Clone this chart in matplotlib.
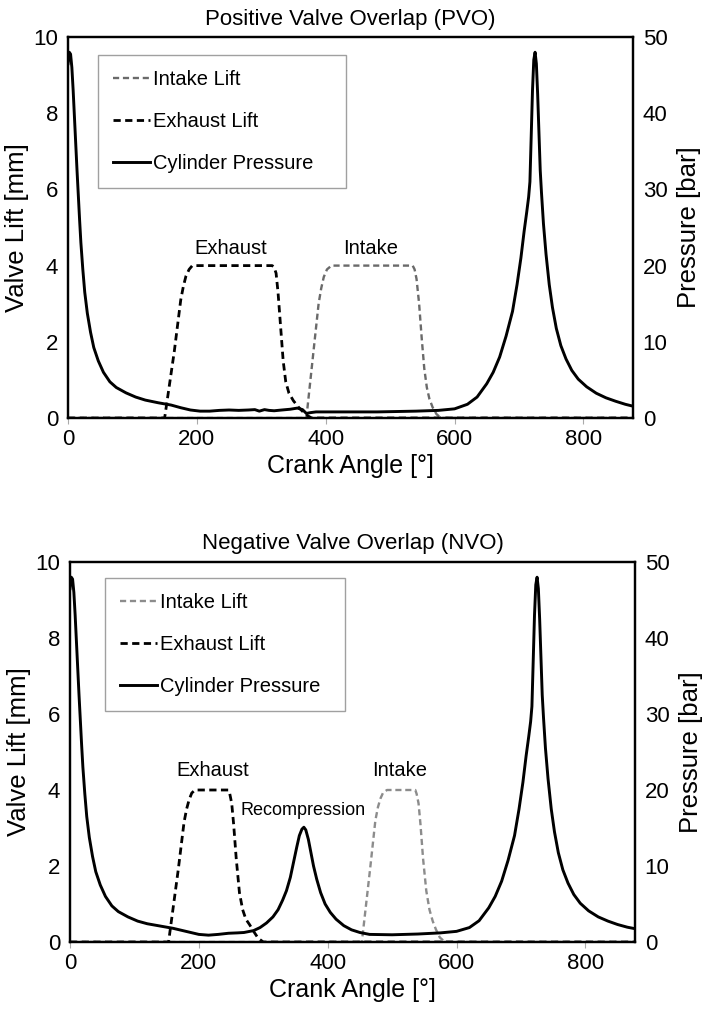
import matplotlib
matplotlib.use("Agg")
import matplotlib.pyplot as plt
from matplotlib.lines import Line2D

plt.rcParams['font.family'] = ['Liberation Sans', 'DejaVu Sans']

# ---------------- data ----------------
# PVO (top panel)
pvo_exh_ca = [0, 150, 165, 175, 179, 183, 188, 193, 317, 320, 323, 326, 330, 334,
              338, 343, 350, 358, 366, 372, 378, 880]
pvo_exh_lift = [0, 0, 1.75, 3.1, 3.45, 3.72, 3.9, 4.0, 4.0, 3.95, 3.8, 3.3, 2.4, 1.5,
                0.95, 0.65, 0.45, 0.28, 0.14, 0.06, 0, 0]
pvo_int_ca = [0, 370, 382, 389, 393, 397, 402, 409, 535, 538, 541, 545, 549, 553,
              557, 561, 566, 572, 579, 880]
pvo_int_lift = [0, 0, 1.9, 3.0, 3.4, 3.7, 3.9, 4.0, 4.0, 3.9, 3.65, 3.0, 2.1, 1.3,
                0.8, 0.5, 0.28, 0.1, 0, 0]
pvo_p_ca = [0, 2, 4, 6, 8, 10, 12, 14, 16, 18, 20, 23, 26, 30, 35, 40, 47, 55, 65,
            75, 90, 105, 120, 140, 160, 175, 190, 205, 220, 235, 250, 265, 280, 290,
            297, 305, 312, 320, 332, 345, 356, 364, 370, 376, 385, 420, 480, 540,
            575, 600, 620, 635, 650, 660, 670, 680, 690, 697, 703, 708, 712, 715,
            717, 719, 721, 723, 725, 727, 729, 731, 733, 735, 738, 742, 747, 752,
            758, 765, 773, 782, 792, 805, 820, 835, 850, 865, 877]
pvo_p_bar = [46.5, 48.0, 47.75, 46.0, 43.0, 39.5, 36.0, 32.5, 29.25, 26.0, 23.0,
             19.5, 16.5, 13.75, 11.25, 9.25, 7.5, 6.0, 4.75, 4.0, 3.3, 2.75, 2.35,
             2.0, 1.7, 1.35, 1.05, 0.9, 0.9, 1.0, 1.05, 1.0, 1.05, 1.1, 0.9, 1.1,
             1.0, 0.95, 1.05, 1.15, 1.3, 1.1, 0.6, 0.7, 0.8, 0.8, 0.8, 0.9, 1.0,
             1.2, 1.8, 2.75, 4.5, 6.0, 8.0, 10.75, 14.0, 17.5, 21.0, 24.5, 27.0,
             29.0, 31.0, 37.0, 43.0, 47.0, 48.0, 46.5, 42.5, 37.5, 32.5, 29.5, 25.5,
             21.5, 17.5, 14.5, 11.75, 9.5, 7.75, 6.25, 5.1, 4.1, 3.25, 2.65, 2.2,
             1.8, 1.55]

# NVO (bottom panel)
nvo_exh_ca = [0, 153, 168, 177, 181, 185, 189, 194, 246, 248, 251, 254, 258, 263,
              268, 273, 279, 285, 292, 300, 880]
nvo_exh_lift = [0, 0, 1.9, 3.15, 3.5, 3.75, 3.92, 4.0, 4.0, 3.9, 3.65, 3.1, 2.2, 1.3,
                0.85, 0.6, 0.45, 0.28, 0.1, 0, 0]
nvo_int_ca = [0, 453, 466, 474, 478, 482, 486, 492, 536, 538, 541, 544, 548, 553,
              558, 563, 568, 574, 582, 880]
nvo_int_lift = [0, 0, 1.95, 3.2, 3.55, 3.78, 3.93, 4.0, 4.0, 3.9, 3.65, 3.1, 2.2,
                1.35, 0.85, 0.55, 0.33, 0.12, 0, 0]
nvo_p_ca = [0, 2, 4, 6, 8, 10, 12, 14, 16, 18, 20, 23, 26, 30, 35, 40, 47, 55, 65,
            75, 90, 105, 120, 140, 160, 180, 200, 215, 230, 246, 260, 270, 285, 295,
            305, 315, 323, 330, 336, 342, 347, 352, 356, 360, 363, 366, 370, 374,
            378, 383, 389, 396, 404, 413, 425, 437, 450, 465, 500, 540, 575, 600,
            620, 635, 650, 660, 670, 680, 690, 697, 703, 708, 712, 715, 717, 719,
            721, 723, 725, 727, 729, 731, 733, 735, 738, 742, 747, 752, 758, 765,
            773, 782, 792, 805, 820, 835, 850, 865, 877]
nvo_p_bar = [46.5, 48.0, 47.75, 46.0, 43.0, 39.5, 36.0, 32.5, 29.25, 26.0, 23.0,
             19.5, 16.5, 13.75, 11.25, 9.25, 7.5, 6.0, 4.75, 4.0, 3.3, 2.75, 2.4,
             2.1, 1.8, 1.4, 1.0, 0.9, 1.0, 1.15, 1.2, 1.25, 1.5, 1.9, 2.5, 3.3,
             4.25, 5.5, 6.75, 8.5, 10.5, 12.5, 14.0, 14.85, 15.1, 14.75, 13.5, 11.75,
             10.0, 8.25, 6.5, 5.0, 3.9, 3.0, 2.15, 1.6, 1.25, 1.0, 0.95, 1.05, 1.2,
             1.4, 1.9, 2.8, 4.5, 6.0, 8.0, 10.75, 14.0, 17.5, 21.0, 24.5, 27.0,
             29.0, 31.0, 37.0, 43.0, 47.0, 48.0, 46.5, 42.5, 37.5, 32.5, 29.5, 25.5,
             21.5, 17.5, 14.5, 11.75, 9.5, 7.75, 6.25, 5.1, 4.1, 3.3, 2.75, 2.3,
             1.95, 1.75]

lift_ticks = [0, 2, 4, 6, 8, 10]
press_ticks = [0, 10, 20, 30, 40, 50]
ca_ticks = [0, 200, 400, 600, 800]

legend_labels = ["Intake Lift", "Exhaust Lift", "Cylinder Pressure"]

# ---------------- figure ----------------
W, H = 709, 1014
fig = plt.figure(figsize=(W / 100, H / 100), dpi=100)

INT_TOP = '#6a6a6a'
INT_BOT = '#8c8c8c'
DASH = (0, (2.6, 1.6))


def make_panel(rect, title, exh_ca, exh_lift, int_ca, int_lift, p_ca, p_bar,
               int_color, legend_anchor, annots):
    ax = fig.add_axes(rect)
    ax2 = ax.twinx()
    ax.plot(int_ca, int_lift, ls=DASH, color=int_color, lw=1.7, zorder=3)
    ax.plot(exh_ca, exh_lift, ls=DASH, color='black', lw=2.0, zorder=3)
    ax2.plot(p_ca, p_bar, color='black', lw=2.1, zorder=4)

    ax.set_xlim(0, 877)
    ax.set_ylim(0, 10)
    ax2.set_ylim(0, 50)
    ax.set_xticks(ca_ticks)
    ax.set_yticks(lift_ticks)
    ax2.set_yticks(press_ticks)
    for a in (ax, ax2):
        for s in a.spines.values():
            s.set_linewidth(1.6)
            s.set_color('black')
    ax.tick_params(axis='x', direction='out', length=4, width=0.8, color='#aaaaaa',
                   labelsize=16, pad=4)
    ax.tick_params(axis='y', length=0, labelsize=16, pad=7)
    ax2.tick_params(axis='y', length=0, labelsize=16, pad=7)
    ax.set_xlabel("Crank Angle [°]", fontsize=18, labelpad=3)
    ax.set_ylabel("Valve Lift [mm]", fontsize=18.5, labelpad=3)
    ax2.set_ylabel("Pressure [bar]", fontsize=18.5, labelpad=7)
    ax.set_title(title, fontsize=16, pad=9)

    handles = [Line2D([], [], ls=DASH, color=int_color, lw=1.7),
               Line2D([], [], ls=DASH, color='black', lw=2.0),
               Line2D([], [], color='black', lw=2.1)]
    leg = ax2.legend(handles, legend_labels, loc='upper left',
                     bbox_to_anchor=legend_anchor, mode='expand', fontsize=14.5,
                     frameon=True, fancybox=False, edgecolor='#888888',
                     handlelength=1.85, handletextpad=0.12, labelspacing=1.15,
                     borderpad=0.75, borderaxespad=0.0)
    leg.get_frame().set_linewidth(1.0)
    for (x, y, txt, fs) in annots:
        ax.text(x, y, txt, ha='center', va='center', fontsize=fs)
    return ax


make_panel([68 / W, 1 - 418 / H, 565 / W, 381 / H], "Positive Valve Overlap (PVO)",
           pvo_exh_ca, pvo_exh_lift, pvo_int_ca, pvo_int_lift, pvo_p_ca, pvo_p_bar,
           INT_TOP, (0.053, 0.953, 0.439, 0.0),
           [(252, 4.45, "Exhaust", 14.5), (470, 4.45, "Intake", 14.5)])

make_panel([70 / W, 1 - 942 / H, 565 / W, 380 / H], "Negative Valve Overlap (NVO)",
           nvo_exh_ca, nvo_exh_lift, nvo_int_ca, nvo_int_lift, nvo_p_ca, nvo_p_bar,
           INT_BOT, (0.062, 0.958, 0.425, 0.0),
           [(222, 4.5, "Exhaust", 14.5), (512, 4.5, "Intake", 14.5),
            (362, 3.45, "Recompression", 13)])

fig.savefig("out.png", dpi=100)
